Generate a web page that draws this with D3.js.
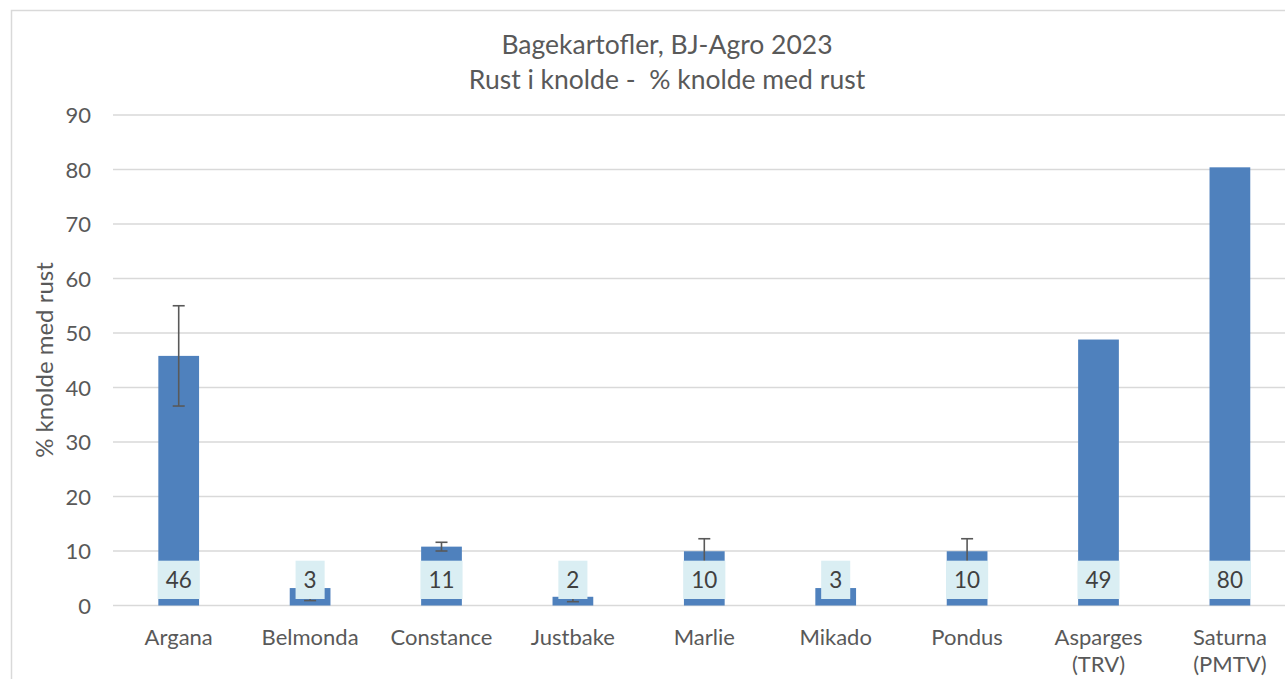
<!DOCTYPE html>
<html><head><meta charset="utf-8">
<script src="https://cdn.jsdelivr.net/npm/d3@7"></script>
<style>html,body{margin:0;padding:0;background:#fff;overflow:hidden}svg{display:block;font-family:Lato,"Open Sans",sans-serif}text{white-space:pre}</style>
</head><body>
<script>
const categories = [["Argana"],["Belmonda"],["Constance"],["Justbake"],["Marlie"],["Mikado"],["Pondus"],["Asparges","(TRV)"],["Saturna","(PMTV)"]];
const values = [45.8, 3.2, 10.8, 1.6, 9.95, 3.2, 9.95, 48.8, 80.4];
const errors = [9.2, 2.3, 0.8, 0.9, 2.3, 1.0, 2.3, null, null];
const yTicks = [0,10,20,30,40,50,60,70,80,90];
const titleLines = ["Bagekartofler, BJ-Agro 2023","Rust i knolde -  % knolde med rust"];
const yTitle = "% knolde med rust";

const W = 1285, H = 679;
const svg = d3.select("body").append("svg").attr("width",W).attr("height",H);
svg.append("rect").attr("x",11.5).attr("y",10.5).attr("width",1500).attr("height",900)
  .attr("fill","#fff").attr("stroke","#D9D9D9").attr("stroke-width",1.5);

const left = 113, step = 131.4, n = categories.length;
const x = d3.scaleBand().domain(d3.range(n)).range([left, left+step*n]).paddingInner(0.69).paddingOuter(0.345);
const y = d3.scaleLinear().domain([0,90]).range([605.5,115]);

// gridlines
svg.append("g").selectAll("line").data(yTicks).join("line")
  .attr("x1",left).attr("x2",left+step*n).attr("y1",d=>y(d)).attr("y2",d=>y(d))
  .attr("stroke","#D9D9D9").attr("stroke-width",1.5);

// y axis tick labels
const yAxis = d3.axisLeft(y).tickValues(yTicks).tickSize(0).tickPadding(0);
const ga = svg.append("g").attr("transform","translate(91,0)").call(yAxis);
ga.select(".domain").remove();
ga.selectAll("text").attr("font-size",22).attr("fill","#595959").attr("font-family","Lato").attr("dy","0.35em");

// bars
svg.append("g").selectAll("rect").data(values).join("rect")
  .attr("x",(d,i)=>x(i)).attr("width",x.bandwidth())
  .attr("y",d=>y(d)).attr("height",d=>y(0)-y(d)).attr("fill","#4F81BD");

// error bars
const eg = svg.append("g").attr("stroke","#595959").attr("stroke-width",1.6);
values.forEach((v,i)=>{
  const e = errors[i]; if(e==null) return;
  const cx = x(i)+x.bandwidth()/2;
  eg.append("line").attr("x1",cx).attr("x2",cx).attr("y1",y(v+e)).attr("y2",y(v-e));
  eg.append("line").attr("x1",cx-6).attr("x2",cx+6).attr("y1",y(v+e)).attr("y2",y(v+e));
  eg.append("line").attr("x1",cx-6).attr("x2",cx+6).attr("y1",y(v-e)).attr("y2",y(v-e));
});

// data labels (inside base)
const lg = svg.append("g");
values.forEach((v,i)=>{
  const cx = x(i)+x.bandwidth()/2;
  const g = lg.append("g");
  const r = g.append("rect").attr("fill","#DAEEF3");
  const t = g.append("text").attr("x",cx).attr("y",y(0)-25.5).attr("dy","0.35em")
    .attr("text-anchor","middle").attr("font-size",22.5).attr("fill","#404040").text(d3.format(".0f")(v));
  const w = t.node().getComputedTextLength()+16;
  r.attr("x",cx-w/2).attr("width",w).attr("y",y(0)-44.8).attr("height",38.3);
});

// x labels
const xg = svg.append("g");
categories.forEach((c,i)=>{
  const cx = x(i)+x.bandwidth()/2;
  const t = xg.append("text").attr("text-anchor","middle").attr("font-size",22).attr("fill","#595959");
  c.forEach((s,j)=>t.append("tspan").attr("x",cx).attr("y",645+j*27).text(s));
});

// y title
svg.append("text").attr("transform","translate(53,360) rotate(-90)").attr("text-anchor","middle")
  .attr("font-size",24).attr("fill","#595959").text(yTitle);

// title
titleLines.forEach((s,j)=>svg.append("text").attr("x",667).attr("y",54+j*35).attr("text-anchor","middle")
  .attr("font-size",26.5).attr("fill","#595959").text(s));
</script>
</body></html>
